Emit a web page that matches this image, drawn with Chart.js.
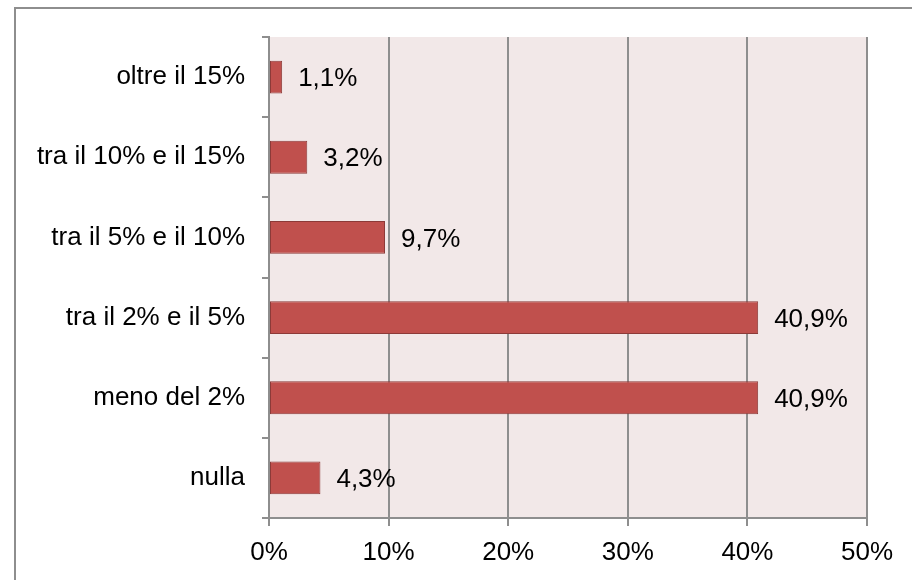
<!DOCTYPE html>
<html>
<head>
<meta charset="utf-8">
<script src="https://cdn.jsdelivr.net/npm/chart.js@4"></script>
<style>
  html, body { margin:0; padding:0; background:#fff; }
  #wrap { width:912px; height:580px; position:relative; }
</style>
</head>
<body>
<div id="wrap"><canvas id="grafico" width="912" height="580"></canvas></div>
<script>
// Categorie (dall'alto verso il basso) e valori in %
const categorie = ['oltre il 15%', 'tra il 10% e il 15%', 'tra il 5% e il 10%', 'tra il 2% e il 5%', 'meno del 2%', 'nulla'];
const valori = [1.1, 3.2, 9.7, 40.9, 40.9, 4.3];
const tickX = [0, 10, 20, 30, 40, 50];

const FONT = 'Liberation Sans, Arial, sans-serif';
const FS = 26;

// sfondo area del grafico + cornice esterna
const sfondo = {
  id: 'sfondo',
  beforeDraw(chart){
    const { ctx, chartArea: a } = chart;
    ctx.save();
    ctx.fillStyle = '#F2E8E8';
    ctx.fillRect(a.left, a.top, a.right - a.left, a.bottom - a.top);
    ctx.strokeStyle = '#8e8e8e';
    ctx.lineWidth = 2;
    ctx.beginPath();
    ctx.moveTo(15, 600);
    ctx.lineTo(15, 8);
    ctx.lineTo(930, 8);
    ctx.stroke();
    ctx.restore();
  }
};

// etichette dei valori a destra delle barre
const etichette = {
  id: 'etichette',
  afterDatasetsDraw(chart){
    const { ctx } = chart;
    const meta = chart.getDatasetMeta(0);
    ctx.save();
    ctx.font = FS + 'px ' + FONT;
    ctx.fillStyle = '#000';
    ctx.textAlign = 'left';
    ctx.textBaseline = 'middle';
    meta.data.forEach((bar, i) => {
      const txt = valori[i].toFixed(1).replace('.', ',') + '%';
      ctx.fillText(txt, bar.x + 16, bar.y + 2);
    });
    ctx.restore();
  }
};

new Chart(document.getElementById('grafico').getContext('2d'), {
  type: 'bar',
  data: {
    labels: categorie,
    datasets: [{
      data: valori,
      backgroundColor: '#C0504D',
      borderColor: '#8C3A38',
      borderWidth: 1,
      borderSkipped: false,
      barPercentage: 0.41,
      categoryPercentage: 1
    }]
  },
  options: {
    indexAxis: 'y',
    responsive: false,
    animation: false,
    layout: { padding: { left: 0, top: 37, right: 45, bottom: 0 } },
    plugins: { legend: { display: false }, tooltip: { enabled: false } },
    scales: {
      x: {
        min: 0, max: 50,
        afterBuildTicks(scale){ scale.ticks = tickX.map(v => ({ value: v })); },
        afterFit(scale){ scale.height = 62; },
        grid: { color: '#8e8e8e', lineWidth: 2, tickLength: 8 },
        border: { color: '#8e8e8e', width: 2 },
        ticks: {
          padding: 11,
          color: '#000',
          font: { family: FONT, size: FS },
          callback: v => v + '%'
        }
      },
      y: {
        afterFit(scale){ scale.width = 269; },
        grid: { offset: true, drawOnChartArea: false, color: '#8e8e8e', lineWidth: 2, tickLength: 7 },
        border: { color: '#8e8e8e', width: 2 },
        ticks: {
          padding: 17,
          color: '#000',
          font: { family: FONT, size: FS }
        }
      }
    }
  },
  plugins: [sfondo, etichette]
});
</script>
</body>
</html>
